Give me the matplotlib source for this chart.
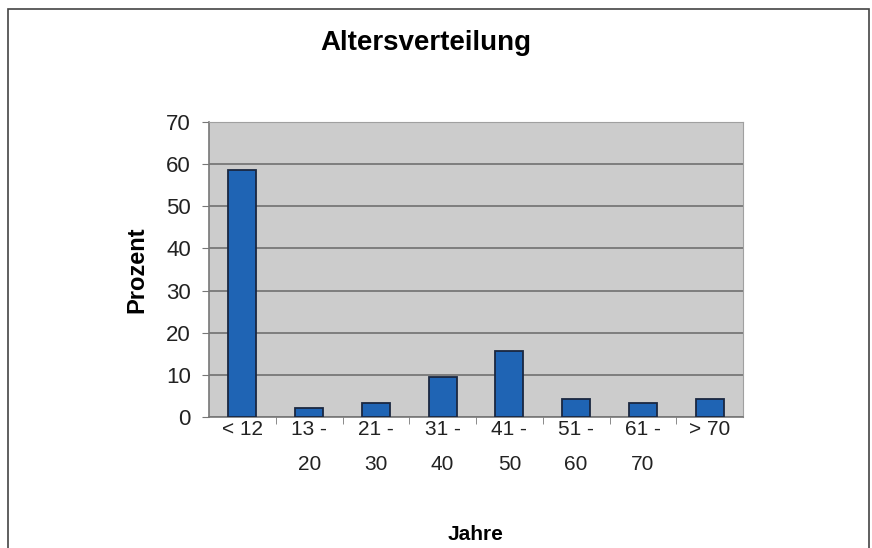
import matplotlib
matplotlib.use("Agg")
import matplotlib.pyplot as plt
from matplotlib.patches import Rectangle

# age groups and share in percent
categories = ["< 12", "13 -\n20", "21 -\n30", "31 -\n40", "41 -\n50", "51 -\n60", "61 -\n70", "> 70"]
prozent = [58.6, 2.2, 3.4, 9.5, 15.7, 4.2, 3.4, 4.2]
yticks = [0, 10, 20, 30, 40, 50, 60, 70]

plt.rcParams['font.family'] = ['Liberation Sans', 'DejaVu Sans']

fig = plt.figure(figsize=(8.72, 5.48), dpi=100)
fig.patch.set_facecolor("white")

# thin frame around the whole chart
fig.patches.append(Rectangle((8 / 872, -0.05), (869 - 8) / 872, 1.05 - 9 / 548,
                             transform=fig.transFigure, fill=False,
                             edgecolor="#444444", linewidth=1.2))

ax = fig.add_axes([209 / 872, 1 - 417 / 548, (743 - 209) / 872, (417 - 122) / 548])
ax.set_facecolor("#cccccc")

x = range(len(categories))
ax.bar(x, prozent, width=0.42, color="#1f64b4", edgecolor="#1a2740", linewidth=1.3, zorder=3)

ax.set_xlim(-0.5, len(categories) - 0.5)
ax.set_ylim(0, 70)
ax.set_yticks(yticks)
ax.yaxis.grid(True, color="#707070", linewidth=1.2, zorder=0)
ax.set_axisbelow(True)

ax.set_xticks(list(x))
ax.set_xticklabels(categories, fontsize=15, color="#222222", linespacing=2.05, va="top")
ax.tick_params(axis="x", length=0, pad=2)
ax.set_xticks([i + 0.5 for i in range(len(categories) - 1)], minor=True)
ax.tick_params(axis="x", which="minor", length=5, direction="out", color="#777777")
ax.tick_params(axis="y", labelsize=16, labelcolor="#222222", length=5, color="#777777", pad=8)

for side in ["top", "right"]:
    ax.spines[side].set_color("#a0a0a0")
for side in ["left", "bottom"]:
    ax.spines[side].set_color("#777777")
    ax.spines[side].set_linewidth(1.2)

ax.set_ylabel("Prozent", fontsize=17, fontweight="bold", labelpad=13)
ax.set_xlabel("Jahre", fontsize=15, fontweight="bold", labelpad=37)
fig.text(426 / 872, 1 - 43 / 548, "Altersverteilung", fontsize=20, fontweight="bold",
         ha="center", va="center")

fig.savefig("out.png", dpi=100)
